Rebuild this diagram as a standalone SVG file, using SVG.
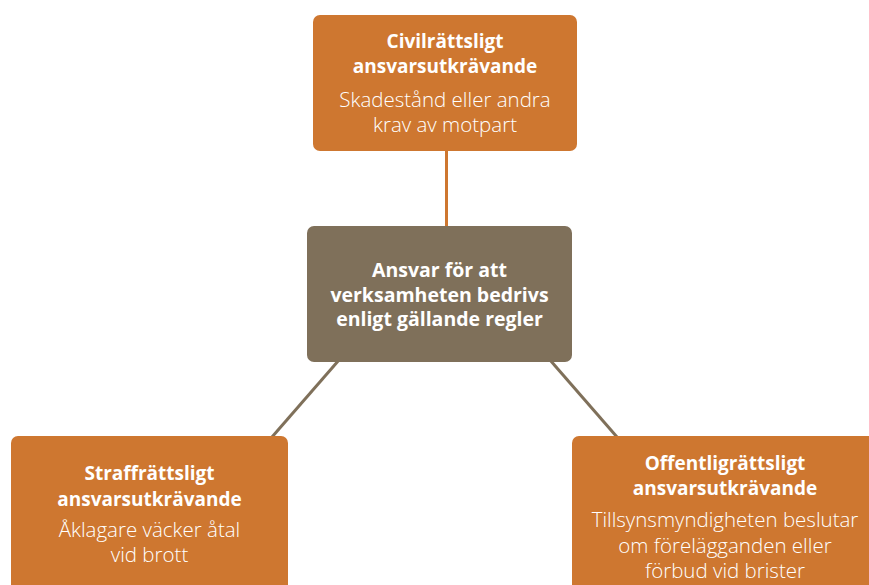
<svg xmlns="http://www.w3.org/2000/svg" width="869" height="585" viewBox="0 0 869 585">
<style>
.box{fill:#CE7730}
.core{fill:#7F705A}
.t{font-family:"Open Sans",Lato,"Liberation Sans",sans-serif;fill:#ffffff;text-anchor:middle}
.b{font-weight:bold;font-size:19px}
.r{font-weight:300;font-size:20.5px}
.c{font-weight:bold;font-size:19.5px}
</style>
<rect width="869" height="585" fill="#ffffff"/>
<g id="connectors" stroke-width="3" fill="none">
<line x1="446.5" y1="150" x2="446.5" y2="228" stroke="#CE7730"/>
<line x1="339" y1="360" x2="272" y2="437" stroke="#7F705A"/>
<line x1="550" y1="360" x2="617" y2="437" stroke="#7F705A"/>
</g>
<g id="node-civil">
<rect class="box" x="313" y="15" width="264" height="136" rx="7"/>
<text class="t b" x="445" y="48">Civilrättsligt</text>
<text class="t b" x="445" y="73">ansvarsutkrävande</text>
<text class="t r" x="445" y="107">Skadestånd eller andra</text>
<text class="t r" x="445" y="132">krav av motpart</text>
</g>
<g id="node-core">
<rect class="core" x="307" y="226" width="265" height="136" rx="7"/>
<text class="t c" x="439.5" y="277">Ansvar för att</text>
<text class="t c" x="439.5" y="302">verksamheten bedrivs</text>
<text class="t c" x="439.5" y="326">enligt gällande regler</text>
</g>
<g id="node-straff">
<rect class="box" x="11" y="436" width="277" height="170" rx="7"/>
<text class="t b" x="149.5" y="480">Straffrättsligt</text>
<text class="t b" x="149.5" y="506">ansvarsutkrävande</text>
<text class="t r" x="149.5" y="537">Åklagare väcker åtal</text>
<text class="t r" x="149.5" y="562">vid brott</text>
</g>
<g id="node-offentlig">
<rect class="box" x="572" y="436" width="320" height="170" rx="7"/>
<text class="t b" x="725" y="470">Offentligrättsligt</text>
<text class="t b" x="725" y="495">ansvarsutkrävande</text>
<text class="t r" x="725" y="527">Tillsynsmyndigheten beslutar</text>
<text class="t r" x="725" y="553">om förelägganden eller</text>
<text class="t r" x="725" y="578">förbud vid brister</text>
</g>
</svg>
